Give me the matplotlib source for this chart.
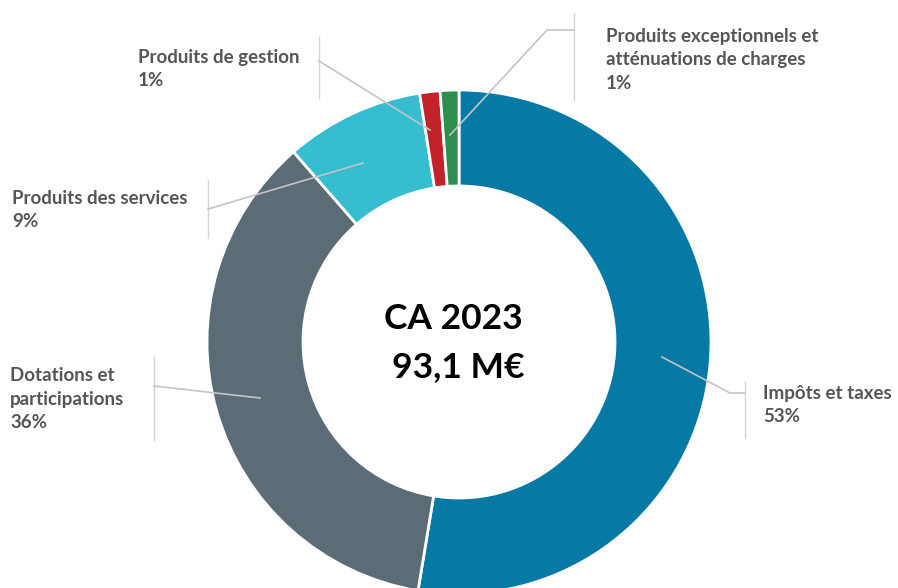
import matplotlib.pyplot as plt

# recettes 2023 (parts en %)
categories = ['Impôts et taxes', 'Dotations et\nparticipations', 'Produits des services',
              'Produits de gestion', 'Produits exceptionnels et\natténuations de charges']
values = [52.6, 36.0, 8.9, 1.3, 1.2]
colors = ['#0679a5', '#5c6c76', '#36bdd0', '#c3222b', '#2e8e4f']

W, H = 898, 588
fig = plt.figure(figsize=(W / 100, H / 100), dpi=100)
ax = fig.add_axes([0, 0, 1, 1])

cx, cy, r = 459, 342, 252
# y axis is inverted, so startangle=-90 + counterclock gives a clockwise pie from the top
ax.pie(values, colors=colors, center=(cx, cy), radius=r, startangle=-90, counterclock=True,
       wedgeprops=dict(width=96, edgecolor='white', linewidth=2), frame=True)
ax.set_xlim(0, W)
ax.set_ylim(H, 0)  # pixel-like coordinates, y down
ax.set_aspect('equal')
ax.axis('off')

# labels: text position, vertical bar, leader line points
label_layout = [
    # (text x, text y center, bar x, bar y0, bar y1, leader points)
    (763, 405, 745, 382, 438, [(745, 393), (730, 393), (662, 357)]),
    (10, 399, 154, 357, 440, [(154, 386), (260, 398)]),
    (12, 210, 208, 180, 238, [(208, 209), (363, 163)]),
    (138, 69, 319, 37, 98, [(319, 61), (430, 130)]),
    (606, 60, 574, 13, 100, [(574, 30), (547, 30), (450, 135)]),
]
for cat, val, (tx, ty, bx, by0, by1, pts) in zip(categories, values, label_layout):
    ax.plot([bx, bx], [by0, by1], color='#d4d4d4', lw=1)
    ax.plot([p[0] for p in pts], [p[1] for p in pts], color='#c4c4c4', lw=1.2)
    ax.text(tx, ty, f'{cat}\n{round(val)}%', ha='left', va='center', fontsize=13.5,
            fontweight='bold', family='Lato', color='#555555', linespacing=1.45)

ax.text(453, 319, 'CA 2023', ha='center', va='center', fontsize=25.5,
        fontweight='bold', family='Lato', color='black')
ax.text(458, 367, '93,1 M€', ha='center', va='center', fontsize=25.5,
        fontweight='bold', family='Lato', color='black')

fig.savefig('out.png', dpi=100)
